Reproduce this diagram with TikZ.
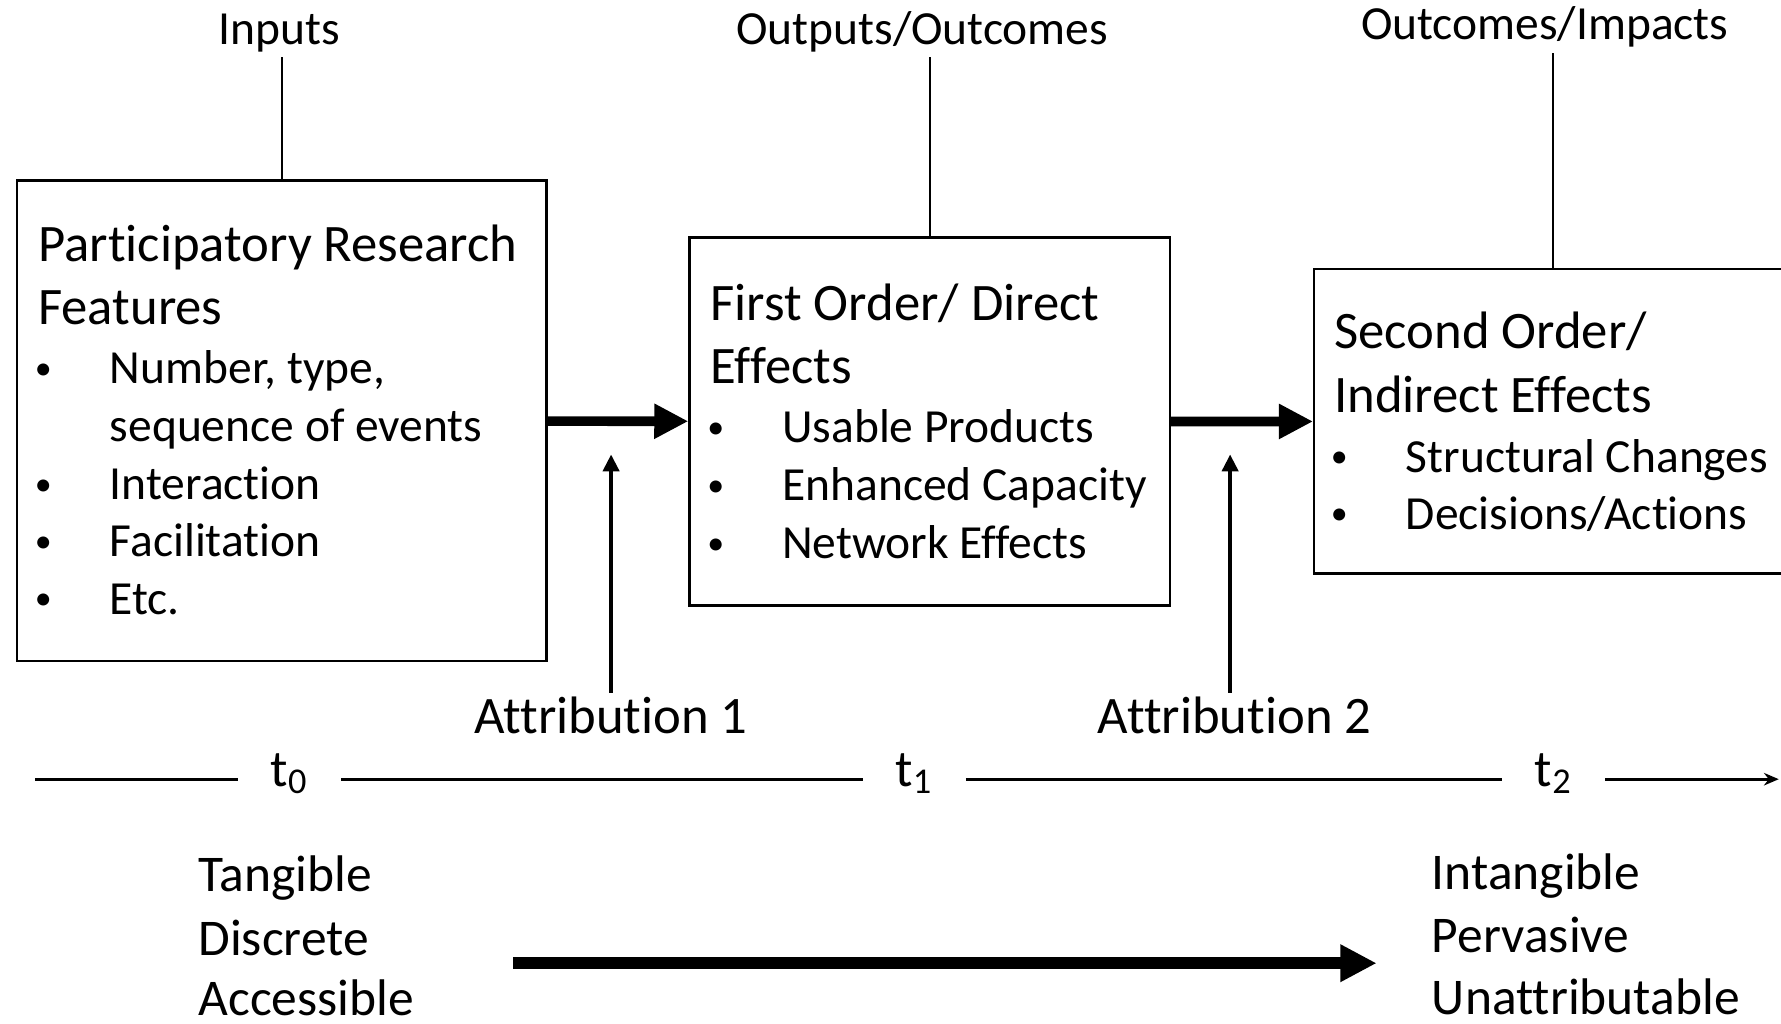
\documentclass[tikz,border=0pt]{standalone}
\usepackage{fontspec}
\setmainfont[Ligatures=CommonOff]{Carlito}
\usetikzlibrary{arrows.meta}
\newcommand{\bul}{\makebox[0.63cm][l]{\hspace{-0.03cm}\raisebox{0.04cm}{\fontsize{8.5}{10}\selectfont•}}}
\begin{document}
\begin{tikzpicture}[x=1cm,y=1cm,
  box/.style={draw, line width=0.6pt, inner sep=0pt, anchor=north west},
  head/.style={anchor=base west, inner sep=0pt, font=\fontsize{13.2}{16}\selectfont},
  item/.style={anchor=base west, inner sep=0pt, font=\fontsize{11.9}{14}\selectfont},
  toplabel/.style={anchor=base, inner sep=0pt, font=\fontsize{11.9}{14}\selectfont},
  attrlabel/.style={anchor=base, inner sep=0pt, font=\fontsize{13.2}{16}\selectfont},
  tlabel/.style={anchor=base, inner ysep=0pt, inner xsep=0.28cm, font=\fontsize{13}{16}\selectfont},
  quality/.style={anchor=base west, inner sep=0pt, font=\fontsize{12.9}{15}\selectfont},
  flow/.style={line width=0.085cm, -{Triangle[length=0.30cm,width=0.29cm]}},
  attr/.style={line width=1.1pt, -{Triangle[length=0.15cm,width=0.14cm]}},
  link/.style={line width=0.5pt},
  timeline/.style={line width=0.7pt},
  trend/.style={line width=0.105cm, -{Triangle[length=0.32cm,width=0.31cm]}}
]
\useasboundingbox (0,0) rectangle (15.68,-9.015);
\clip (0,0) rectangle (15.68,-9.015);

% boxes
\node[box, minimum width=4.66cm, minimum height=4.23cm] (box1) at (0.14,-1.58) {};
\node[box, minimum width=4.23cm, minimum height=3.24cm] (box2) at (6.06,-2.08) {};
\node[box, minimum width=4.20cm, minimum height=2.68cm] (box3) at (11.56,-2.36) {};

% box 1 text
\node[head] (b1h1) at (0.33,-2.30) {Participatory Research};
\node[head] (b1h2) at (0.33,-2.86) {Features};
\node[item] (b1i1) at (0.33,-3.38) {\bul Number, type,};
\node[item] (b1i1b) at (0.96,-3.89) {sequence of events};
\node[item] (b1i2) at (0.33,-4.40) {\bul Interaction};
\node[item] (b1i3) at (0.33,-4.90) {\bul Facilitation};
\node[item] (b1i4) at (0.33,-5.41) {\bul Etc.};

% box 2 text
\node[head] (b2h1) at (6.25,-2.82) {First Order/ Direct};
\node[head] (b2h2) at (6.25,-3.38) {Effects};
\node[item] (b2i1) at (6.25,-3.90) {\bul Usable Products};
\node[item] (b2i2) at (6.25,-4.41) {\bul Enhanced Capacity};
\node[item] (b2i3) at (6.25,-4.92) {\bul Network Effects};

% box 3 text
\node[head] (b3h1) at (11.74,-3.07) {Second Order/};
\node[head] (b3h2) at (11.74,-3.63) {Indirect Effects};
\node[item] (b3i1) at (11.74,-4.16) {\bul Structural Changes};
\node[item] (b3i2) at (11.74,-4.66) {\bul Decisions/Actions};

% top labels
\node[toplabel] (inputs) at (2.46,-0.39) {Inputs};
\node[toplabel] (outputs) at (8.12,-0.39) {Outputs/Outcomes};
\node[toplabel] (impacts) at (13.60,-0.35) {Outcomes/Impacts};
\draw[link] (box1.north) -- ([yshift=-0.04cm]box1.north |- inputs.south);
\draw[link] (box2.north) -- ([yshift=-0.04cm]box2.north |- outputs.south);
\draw[link] (box3.north) -- ([yshift=-0.04cm]box3.north |- impacts.south);

% flow arrows
\draw[flow] (box1) -- (box2);
\draw[flow] (box2) -- (box3);

% attribution
\node[attrlabel] (attr1) at (5.38,-6.46) {Attribution 1};
\node[attrlabel] (attr2) at (10.87,-6.46) {Attribution 2};
\coordinate (a1tip) at (5.38,-4.00);
\coordinate (a2tip) at (10.83,-4.00);
\draw[attr] ([yshift=0.03cm]attr1.north) -- (a1tip);
\draw[attr] ([yshift=0.03cm]attr2.north -| a2tip) -- (a2tip);

% timeline
\node[tlabel] (t0) at (2.55,-6.92) {t\textsubscript{0}};
\node[tlabel] (t1) at (8.05,-6.92) {t\textsubscript{1}};
\node[tlabel] (t2) at (13.68,-6.92) {t\textsubscript{2}};
\coordinate (tstart) at (0.31,-6.86);
\coordinate (tend) at (15.66,-6.86);
\draw[timeline] (tstart) -- (tstart -| t0.west);
\draw[timeline] (tstart -| t0.east) -- (tstart -| t1.west);
\draw[timeline] (tstart -| t1.east) -- (tstart -| t2.west);
\draw[timeline, -{Stealth[length=0.13cm,width=0.11cm]}] (tstart -| t2.east) -- (tend);

% qualities
\node[quality] (q1) at (1.74,-7.85) {Tangible};
\node[quality] (q2) at (1.74,-8.41) {Discrete};
\node[quality] (q3) at (1.74,-8.94) {Accessible};
\node[quality] (r1) at (12.60,-7.83) {Intangible};
\node[quality] (r2) at (12.60,-8.39) {Pervasive};
\node[quality] (r3) at (12.60,-8.93) {Unattributable};
\coordinate (trendstart) at (4.52,-8.48);
\coordinate (trendend) at (12.12,-8.48);
\draw[trend] (trendstart) -- (trendend);
\end{tikzpicture}
\end{document}
